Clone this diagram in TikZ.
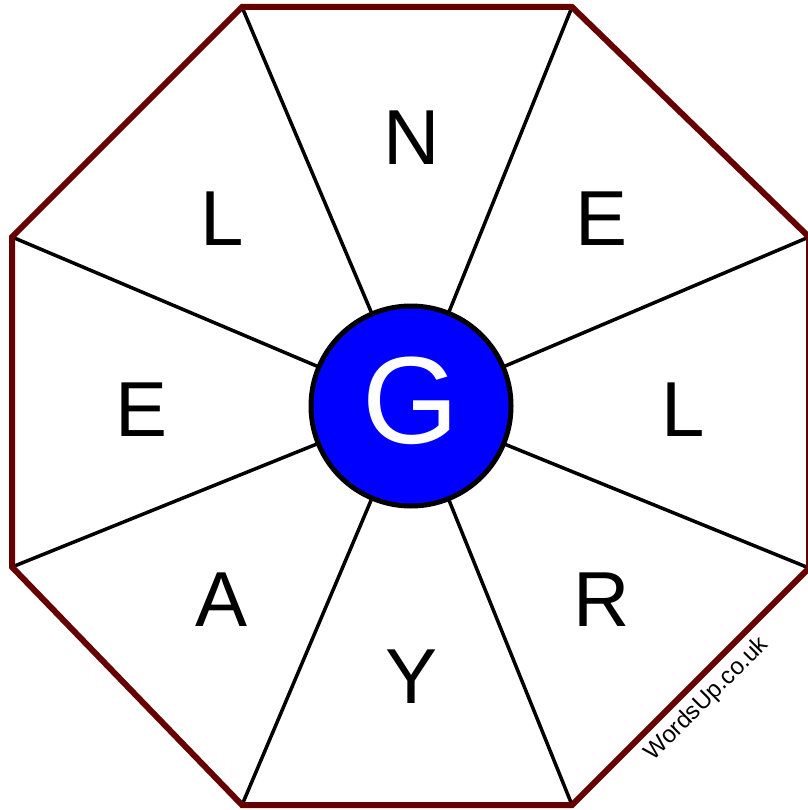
\documentclass[tikz,border=0pt]{standalone}
\usepackage{fontspec}
\setmainfont{Liberation Sans}
\usetikzlibrary{calc}
\definecolor{octred}{HTML}{660000}
\definecolor{hubblue}{HTML}{0000FF}
\begin{document}
\begin{tikzpicture}[x=1pt,y=-1pt,
  letter/.style={font=\fontsize{78}{78}\selectfont, inner sep=0pt},
  spoke/.style={line width=3.5pt, black},
  octo/.style={line width=6pt, octred, line join=miter},
  hub/.style={circle, draw=black, line width=5pt, fill=hubblue, minimum size=200pt, inner sep=0pt}]
\useasboundingbox (0,0) rectangle (807,810);
\coordinate (c) at (411,406);
\coordinate (v0) at (809,568);
\coordinate (v1) at (572,805);
\coordinate (v2) at (242,805);
\coordinate (v3) at (12,567);
\coordinate (v4) at (12,237);
\coordinate (v5) at (242,7);
\coordinate (v6) at (572,7);
\coordinate (v7) at (809,237);
\foreach \i in {0,...,7} {
  \draw[spoke] (c) -- (v\i);
}
\draw[octo] (v0) -- (v1) -- (v2) -- (v3) -- (v4) -- (v5) -- (v6) -- (v7) -- cycle;
\node[hub] (h) at (c) {};
\node[letter, text=white, font=\fontsize{124}{124}\selectfont] (g) at (411,401) {G};
\node[letter] (l0) at (412,138) {N};
\node[letter] (l1) at (602,219) {E};
\node[letter] (l2) at (683,410) {L};
\node[letter] (l3) at (602,600) {R};
\node[letter] (l4) at (412,677) {Y};
\node[letter] (l5) at (222,600) {A};
\node[letter] (l6) at (142,410) {E};
\node[letter] (l7) at (222,219) {L};
\node[font=\fontsize{24}{24}\selectfont, rotate=45, inner sep=0pt] (w) at (707,699) {WordsUp.co.uk};
\end{tikzpicture}
\end{document}
